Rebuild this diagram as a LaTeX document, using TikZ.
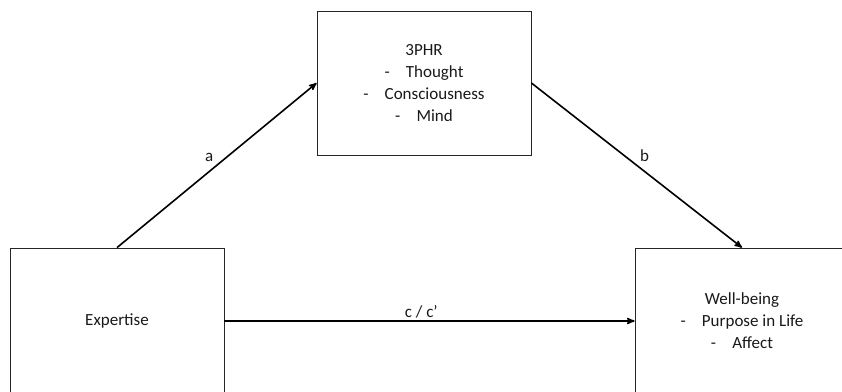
\documentclass[tikz,border=0pt]{standalone}
\usepackage{fontspec}
\setmainfont{Carlito}
\usepackage{tikz}
\usetikzlibrary{arrows,positioning}

\newcommand{\bulletline}[1]{-\hspace{0.95em}#1}

\begin{document}
\begin{tikzpicture}[
        x=1pt, y=-1pt,
        box/.style={draw=black!85, line width=0.8pt, minimum width=214pt,
            minimum height=146pt, align=center, inner sep=0pt,
            font=\fontsize{17}{22}\selectfont},
        link/.style={black, line width=1.6pt, ->, >=stealth'},
        lbl/.style={font=\fontsize{17}{20}\selectfont, inner sep=2pt},
        every node/.style={color=black!90},
    ]
    % frame of the picture
    \path[use as bounding box] (0,0) rectangle (842,391);
    \clip (0,0) rectangle (842,391);
    % boxes
    \node[box, minimum height=144pt] at (424,83) (phr)
        {3PHR\\ \bulletline{Thought}\\ \bulletline{Consciousness}\\ \bulletline{Mind}};
    \node[box] at (117,321) (expertise) {Expertise};
    \node[box] at (742,321) (wellbeing)
        {Well-being\\ \bulletline{Purpose in Life}\\ \bulletline{Affect}};
    % paths
    \draw[link] (expertise.north) -- node[lbl, pos=0.5, above left=1pt] {a} (phr.west);
    \draw[link] (phr.east) -- node[lbl, pos=0.5, above right=1pt] {b} (wellbeing.north);
    \draw[link] (expertise.east) -- node[lbl, pos=0.48, above] {c / c’} (wellbeing.west);
\end{tikzpicture}
\end{document}
